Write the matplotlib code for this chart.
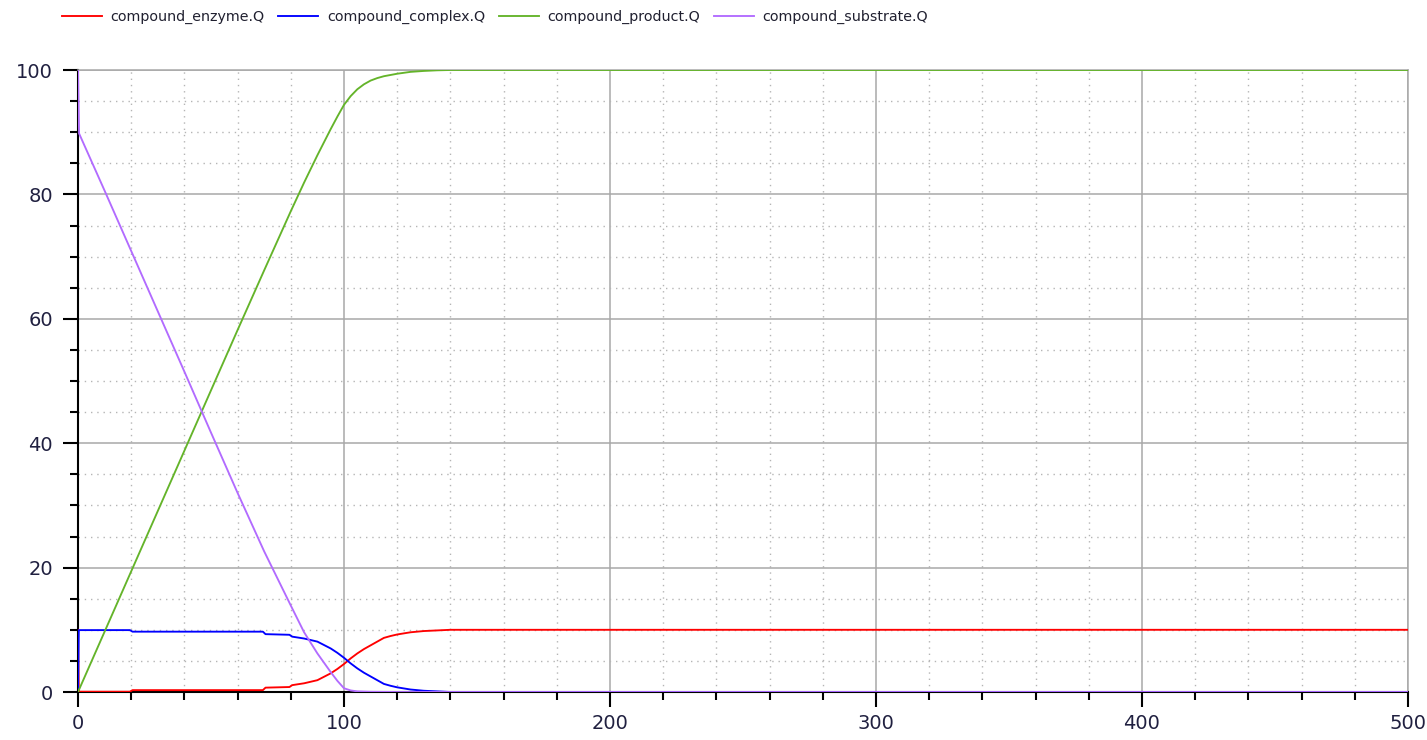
import matplotlib
matplotlib.use("Agg")
import matplotlib.pyplot as plt
from matplotlib.ticker import MultipleLocator

# ---- data ----
t_enzyme = [0, 0.3, 19.5, 20.5, 69.5, 70.5, 79.5, 80.5, 85, 90, 95, 97.5, 100, 102.5, 105, 107.5,
            110, 112.5, 115, 117.5, 120, 125, 130, 135, 140, 500]
enzyme   = [10, 0.05, 0.05, 0.3, 0.3, 0.7, 0.8, 1.1, 1.4, 1.9, 3.0, 3.7, 4.5, 5.4, 6.2, 6.9,
            7.5, 8.1, 8.7, 9.0, 9.25, 9.6, 9.8, 9.9, 10, 10]

t_complex = [0, 0.3, 19.5, 20.5, 69.5, 70.5, 79.5, 80.5, 85, 90, 95, 97.5, 100, 102.5, 105, 107.5,
             110, 112.5, 115, 117.5, 120, 125, 130, 135, 140, 500]
complex_  = [0, 9.95, 9.95, 9.7, 9.7, 9.3, 9.2, 8.9, 8.6, 8.1, 7.0, 6.3, 5.5, 4.6, 3.8, 3.1,
             2.5, 1.9, 1.3, 1.0, 0.75, 0.4, 0.2, 0.1, 0, 0]

t_product = [0, 10, 20, 30, 40, 50, 60, 70, 80, 85, 90, 95, 97.5, 100, 102.5, 105, 107.5, 110,
             112.5, 115, 120, 125, 130, 135, 140, 500]
product   = [0, 9.7, 19.4, 29.1, 38.8, 48.5, 58.2, 67.8, 77.3, 81.9, 86.3, 90.5, 92.5, 94.4, 95.8,
             96.9, 97.7, 98.3, 98.7, 99.0, 99.4, 99.7, 99.85, 99.95, 100, 100]

t_substrate = [0, 0.4, 10, 20, 30, 40, 50, 60, 70, 80, 85, 90, 95, 97.5, 100, 102.5, 105, 110, 120, 500]
substrate   = [100, 89.8, 80.6, 70.9, 61.2, 51.5, 41.7, 32.0, 22.6, 13.9, 9.6, 6.2, 3.2, 1.8, 0.6,
               0.25, 0.1, 0.03, 0, 0]

labels = ["compound_enzyme.Q", "compound_complex.Q", "compound_product.Q", "compound_substrate.Q"]
colors = ["#ff0000", "#0000ff", "#64b42a", "#b26bff"]

x_ticks = [0, 100, 200, 300, 400, 500]
y_ticks = [0, 20, 40, 60, 80, 100]

# ---- figure ----
fig = plt.figure(figsize=(14.27, 7.40), dpi=100)
ax = fig.add_axes([78 / 1427, 1 - 692 / 740, (1408 - 78) / 1427, (692 - 70) / 740])

series = [(t_enzyme, enzyme), (t_complex, complex_), (t_product, product), (t_substrate, substrate)]
handles = []
for (tx, vy), lab, col in zip(series, labels, colors):
    h, = ax.plot(tx, vy, color=col, lw=1.35, label=lab, zorder=3)
    handles.append(h)

ax.set_xlim(0, 500)
ax.set_ylim(0, 100)
ax.set_xticks(x_ticks)
ax.set_yticks(y_ticks)
ax.xaxis.set_minor_locator(MultipleLocator(20))
ax.yaxis.set_minor_locator(MultipleLocator(5))

ax.grid(which="major", color="#a8a8a8", lw=1.1, ls="-", zorder=1)
ax.grid(which="minor", color="#b5b5b5", lw=1.0, ls=(0, (1, 3.5)), zorder=1)
ax.set_axisbelow(True)

for s in ("top", "right"):
    ax.spines[s].set_color("#a8a8a8")
    ax.spines[s].set_linewidth(1.1)
for s in ("left", "bottom"):
    ax.spines[s].set_color("black")
    ax.spines[s].set_linewidth(1.5)

ax.tick_params(which="major", direction="out", length=11, width=1.5, color="black",
               labelsize=14, labelcolor="#202040")
ax.tick_params(axis="x", which="major", pad=5)
ax.tick_params(axis="y", which="major", pad=7)
ax.tick_params(which="minor", direction="out", length=6, width=1.5, color="black")

fig.legend(handles=handles, labels=labels, loc="center left",
           bbox_to_anchor=(62 / 1427, 1 - 17 / 740), ncol=4, frameon=False,
           fontsize=10.3, handlelength=2.8, handletextpad=0.6, columnspacing=0.95,
           borderpad=0, borderaxespad=0, labelcolor="#202030")

fig.savefig("out.png", dpi=100)
